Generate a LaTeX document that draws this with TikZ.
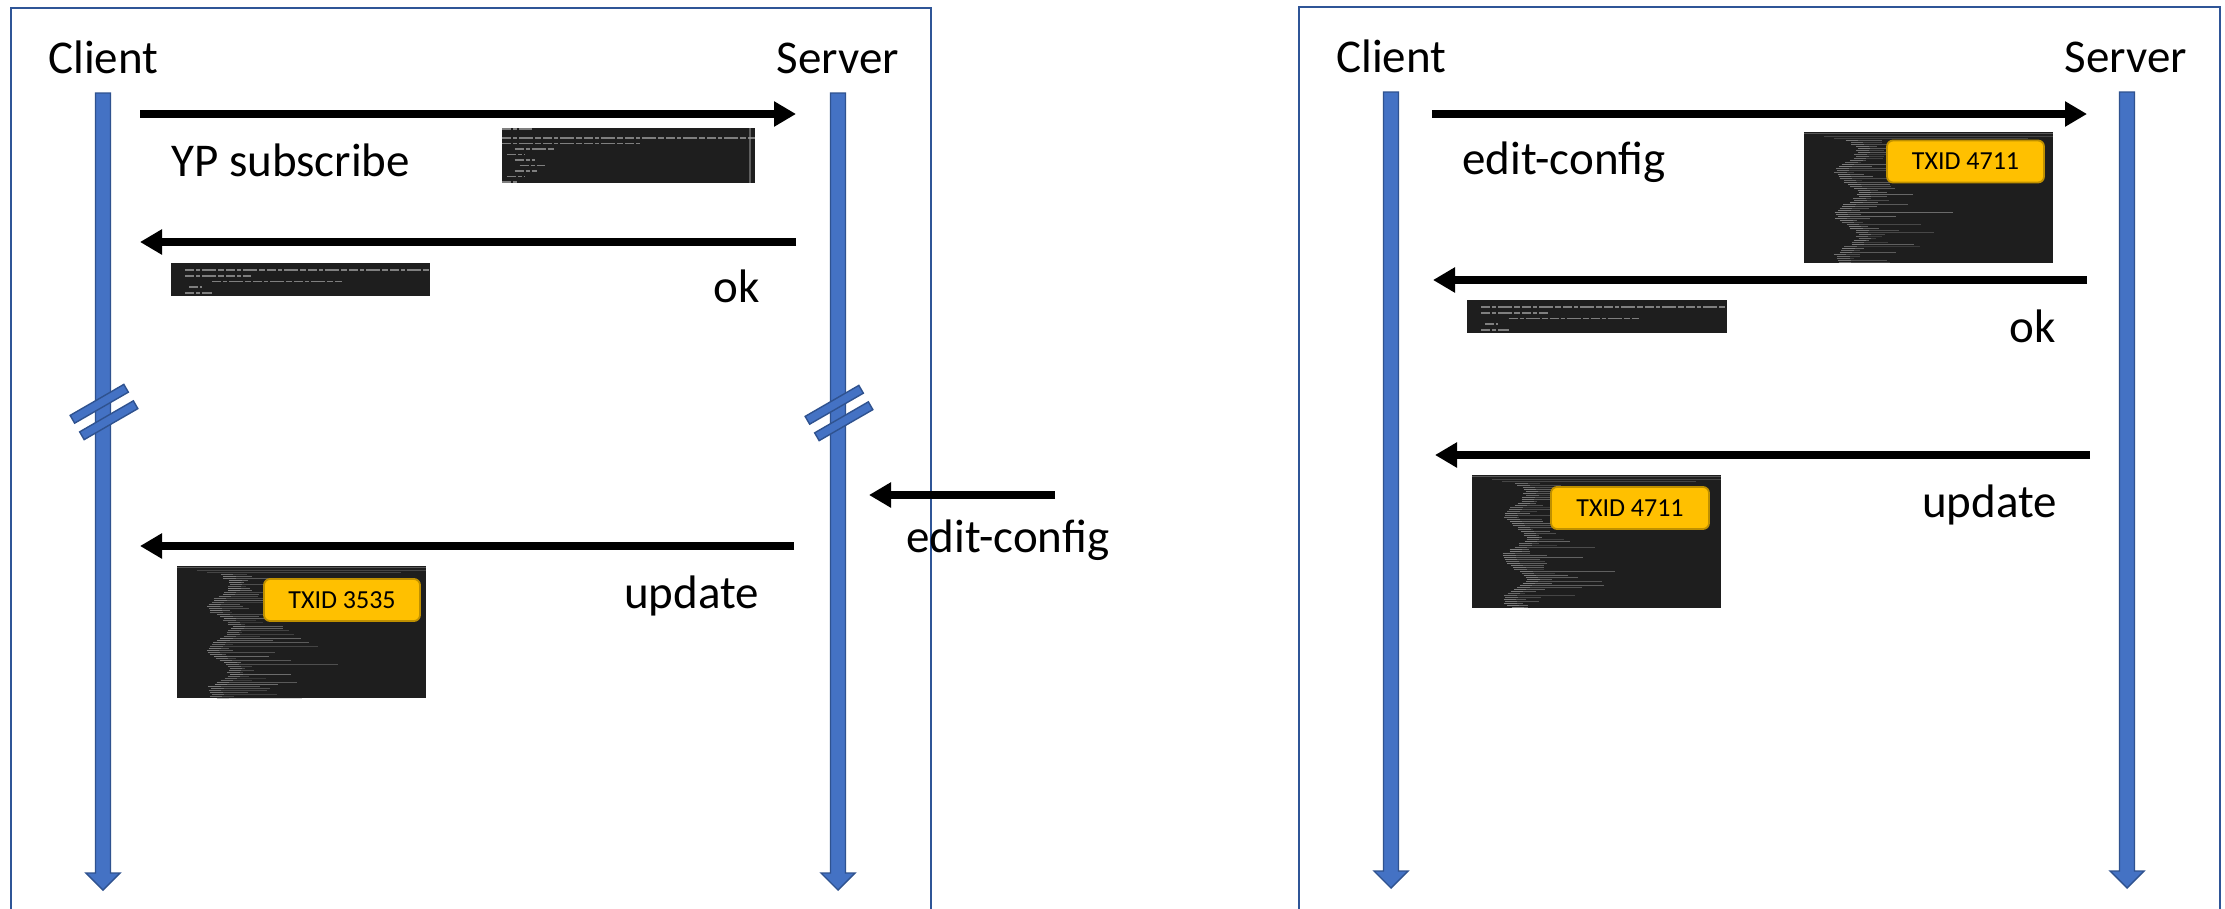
\documentclass[tikz,border=0pt]{standalone}
\usepackage{fontspec}
\setmainfont{Carlito}
\usetikzlibrary{arrows.meta,calc}

\definecolor{lifeblue}{HTML}{4472C4}
\definecolor{lifeedge}{HTML}{2F528F}
\definecolor{framecol}{HTML}{2F5597}
\definecolor{shotbg}{HTML}{1E1E1E}
\definecolor{shotink}{HTML}{A0A0A0}
\definecolor{badgefill}{HTML}{FFC000}
\definecolor{badgeedge}{HTML}{BF9000}

\tikzset{
  panel/.style={draw=framecol, line width=1.6pt},
  lifefill/.style={fill=lifeblue, draw=lifeedge, line width=1.4pt, line join=miter},
  breakbar/.style={fill=lifeblue, draw=lifeedge, line width=1.4pt},
  msg/.style={line width=7.4pt, -{Triangle[length=22pt,width=24pt]}},
  biglabel/.style={inner sep=0pt, font=\fontsize{47}{56}\selectfont},
  badge/.style={fill=badgefill, draw=badgeedge, line width=1.8pt, rounded corners=6pt,
    inner sep=0pt, minimum height=42pt, font=\fontsize{26}{30}\selectfont},
  textrow/.style={draw=shotink, line width=1.6pt, opacity=0.75,
    dash pattern=on 9pt off 2pt on 4pt off 2pt on 14pt off 2pt on 6pt off 2pt},
}

% lifeline drawn as a block arrow pointing down
\newcommand\lifeline[2]{%
  \path[lifefill] ($(#1)+(-7.5,0)$) -- ($(#1)+(7.5,0)$) -- ($(#2)+(7.5,-17)$)
    -- ($(#2)+(17,-17)$) -- (#2) -- ($(#2)+(-17,-17)$) -- ($(#2)+(-7.5,-17)$) -- cycle;}

% two slanted bars marking an interrupted lifeline
\newcommand\breakmark[1]{%
  \begin{scope}[shift={(#1)}, rotate=30]
    \path[breakbar] (-31,-14) rectangle (31,-5);
    \path[breakbar] (-31,5) rectangle (31,14);
  \end{scope}}

% terminal capture of a long, indented XML listing
\newcommand\listingshot[4]{%
  \fill[shotbg] (#1,#2) rectangle (#3,#4);
  \begin{scope}
    \clip (#1,#2) rectangle (#3,#4);
    \draw[shotink, line width=1pt, opacity=0.45] (#1,{#2+1.5}) -- (#3,{#2+1.5});
    \draw[shotink, line width=1pt, opacity=0.3] ({#1+0.08*(#3-#1)},{#2+4}) -- (#3,{#2+4});
    \draw[shotink, line width=1pt, opacity=0.3] ({#1+0.12*(#3-#1)},{#2+6}) -- ({#1+0.9*(#3-#1)},{#2+6});
    \foreach \i in {0,...,64} {
      \pgfmathsetmacro\yy{#2+8+\i*2}
      \pgfmathsetmacro\xs{#1+(#3-#1)*(0.16+0.045*sin(\i*17)+0.02*rnd)}
      \pgfmathsetmacro\len{(#3-#1)*(0.06+0.45*rnd*rnd)}
      \pgfmathsetmacro\op{0.2+0.4*rnd}
      \draw[shotink, line width=0.9pt, opacity=\op] (\xs,\yy) -- ++(\len,0);
      \draw[shotink, line width=0.9pt, opacity=0.45] (\xs,\yy) -- ++({0.05*(#3-#1)},0);
    }
  \end{scope}}

% terminal capture of a short rpc-reply
\newcommand\replyshot[4]{%
  \fill[shotbg] (#1,#2) rectangle (#3,#4);
  \begin{scope}
    \clip (#1,#2) rectangle (#3,#4);
    \pgfmathsetmacro\w{#3-#1}
    \draw[textrow] ({#1+0.055*\w},{#2+7}) -- (#3,{#2+7});
    \draw[textrow] ({#1+0.055*\w},{#2+13}) -- ({#1+0.31*\w},{#2+13});
    \draw[textrow] ({#1+0.16*\w},{#2+18.5}) -- ({#1+0.66*\w},{#2+18.5});
    \draw[textrow] ({#1+0.07*\w},{#2+24}) -- ({#1+0.12*\w},{#2+24});
    \draw[textrow] ({#1+0.055*\w},{#2+30}) -- ({#1+0.16*\w},{#2+30});
  \end{scope}}

% terminal capture of the subscribe rpc
\newcommand\subscribeshot[4]{%
  \fill[shotbg] (#1,#2) rectangle (#3,#4);
  \begin{scope}
    \clip (#1,#2) rectangle (#3,#4);
    \pgfmathsetmacro\w{#3-#1}
    \draw[textrow] (#1,{#2+1}) -- ({#1+0.12*\w},{#2+1});
    \draw[textrow] (#1,{#2+10}) -- (#3,{#2+10});
    \draw[textrow] (#1,{#2+15.5}) -- ({#1+0.55*\w},{#2+15.5});
    \draw[textrow] ({#1+0.05*\w},{#2+21}) -- ({#1+0.21*\w},{#2+21});
    \draw[textrow] ({#1+0.02*\w},{#2+26.5}) -- ({#1+0.09*\w},{#2+26.5});
    \draw[textrow] ({#1+0.05*\w},{#2+32}) -- ({#1+0.13*\w},{#2+32});
    \draw[textrow] ({#1+0.07*\w},{#2+37.5}) -- ({#1+0.17*\w},{#2+37.5});
    \draw[textrow] ({#1+0.05*\w},{#2+43}) -- ({#1+0.14*\w},{#2+43});
    \draw[textrow] ({#1+0.02*\w},{#2+48.5}) -- ({#1+0.09*\w},{#2+48.5});
    \draw[textrow] (#1,{#2+54}) -- ({#1+0.06*\w},{#2+54});
    \draw[shotink, line width=1.5pt, opacity=0.5] ({#3-5},#2) -- ({#3-5},#4);
  \end{scope}}

\begin{document}
\begin{tikzpicture}[x=1pt, y=-1pt]
  \useasboundingbox (0,0) rectangle (2225,908);
  \clip (0,0) rectangle (2225,908);
  \fill[white] (0,0) rectangle (2225,908);
  \pgfmathsetseed{4711}

  % ================= left panel: subscription and push update =================
  \draw[panel] (11,940) -- (11,8) -- (931,8) -- (931,940);

  \node[biglabel, anchor=base west] (clientA) at (48,73) {Client};
  \node[biglabel, anchor=base east] (serverA) at (899,73) {Server};

  \coordinate (clA-top) at (103,93);
  \coordinate (clA-bot) at (103,890);
  \coordinate (svA-top) at (838,93);
  \coordinate (svA-bot) at (838,890);
  \lifeline{clA-top}{clA-bot}
  \lifeline{svA-top}{svA-bot}

  \coordinate (clA-gap) at (104,412);
  \coordinate (svA-gap) at (839,413);
  \breakmark{clA-gap}
  \breakmark{svA-gap}

  % subscribe request
  \coordinate (subA-from) at (140,114);
  \coordinate (subA-to) at (796,114);
  \draw[msg] (subA-from) -- (subA-to);
  \node[biglabel, anchor=base west] (subA-lbl) at (171,176) {YP subscribe};
  \subscribeshot{502}{128}{755}{183}

  % ok reply
  \coordinate (okA-from) at (796,242);
  \coordinate (okA-to) at (140,242);
  \draw[msg] (okA-from) -- (okA-to);
  \replyshot{171}{263}{430}{296}
  \node[biglabel, anchor=base east] (okA-lbl) at (760,302) {ok};

  % edit-config from another client
  \coordinate (ecX-from) at (1055,495);
  \coordinate (ecX-to) at (869,495);
  \draw[msg] (ecX-from) -- (ecX-to);
  \node[biglabel, anchor=base west] (ecX-lbl) at (906,552) {edit-config};

  % pushed update
  \coordinate (updA-from) at (794,546);
  \coordinate (updA-to) at (140,546);
  \draw[msg] (updA-from) -- (updA-to);
  \listingshot{177}{566}{426}{698}
  \node[badge, minimum width=156pt] (txidA) at (342,600) {TXID 3535};
  \node[biglabel, anchor=base east] (updA-lbl) at (759,608) {update};

  % ================= right panel: own edit and its update =================
  \draw[panel] (1299,940) -- (1299,7) -- (2220,7) -- (2220,940);

  \node[biglabel, anchor=base west] (clientB) at (1336,72) {Client};
  \node[biglabel, anchor=base east] (serverB) at (2187,72) {Server};

  \coordinate (clB-top) at (1391,92);
  \coordinate (clB-bot) at (1391,888);
  \coordinate (svB-top) at (2127,92);
  \coordinate (svB-bot) at (2127,888);
  \lifeline{clB-top}{clB-bot}
  \lifeline{svB-top}{svB-bot}

  % edit-config request
  \coordinate (ecB-from) at (1432,114);
  \coordinate (ecB-to) at (2087,114);
  \draw[msg] (ecB-from) -- (ecB-to);
  \node[biglabel, anchor=base west] (ecB-lbl) at (1462,174) {edit-config};
  \listingshot{1804}{132}{2053}{263}
  \node[badge, minimum width=157pt] (txidB) at (1965.5,161.5) {TXID 4711};

  % ok reply
  \coordinate (okB-from) at (2087,280);
  \coordinate (okB-to) at (1433,280);
  \draw[msg] (okB-from) -- (okB-to);
  \replyshot{1467}{300}{1727}{333}
  \node[biglabel, anchor=base east] (okB-lbl) at (2056,342) {ok};

  % pushed update
  \coordinate (updB-from) at (2090,455);
  \coordinate (updB-to) at (1435,455);
  \draw[msg] (updB-from) -- (updB-to);
  \listingshot{1472}{475}{1721}{608}
  \node[badge, minimum width=158pt] (txidC) at (1630,508) {TXID 4711};
  \node[biglabel, anchor=base east] (updB-lbl) at (2057,517) {update};
\end{tikzpicture}
\end{document}
